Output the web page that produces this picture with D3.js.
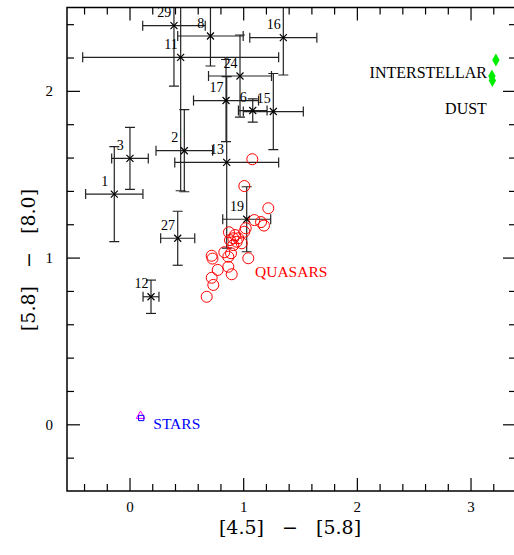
<!DOCTYPE html>
<html>
<head>
<meta charset="utf-8">
<script src="https://cdn.jsdelivr.net/npm/d3@7"></script>
<style>
  body { margin: 0; background: #fff; }
  svg { display: block; }
  text { font-family: "Liberation Serif", "DejaVu Serif", serif; }
</style>
</head>
<body>
<script>
// numbered sources with error bars
var srcIds = [1, 2, 3, 6, 8, 11, 12, 13, 15, 16, 17, 19, 24, 27, 29];
var srcX   = [-0.134, 0.482, 0.004, 1.084, 0.712, 0.450, 0.189, 0.855, 1.265, 1.353, 0.849, 1.031, 0.972, 0.424, 0.391];
var srcY   = [1.381, 1.641, 1.595, 1.882, 2.329, 2.201, 0.765, 1.571, 1.876, 2.319, 1.942, 1.230, 2.089, 1.116, 2.391];
var srcErrX = [0.252, 0.249, 0.161, 0.126, 0.288, 0.862, 0.070, 0.457, 0.264, 0.295, 0.286, 0.211, 0.277, 0.150, 0.275];
var srcErrY = [0.285, 0.246, 0.186, 0.070, 0.180, 0.800, 0.100, 0.514, 0.228, 0.224, 0.246, 0.195, 0.246, 0.162, 0.362];

// quasars
var qsoX = [1.080, 1.010, 1.221, 1.098, 1.157, 1.183, 1.022, 1.010, 0.875, 0.928, 0.913, 0.957, 0.884, 0.943,
            0.987, 0.913, 0.834, 0.893, 0.869, 0.723, 0.730, 1.045, 0.869, 0.776, 0.899, 0.723, 0.737, 0.679];
var qsoY = [1.590, 1.429, 1.296, 1.225, 1.213, 1.192, 1.176, 1.155, 1.152, 1.135, 1.116, 1.116, 1.105, 1.095,
            1.086, 1.075, 1.032, 1.026, 1.005, 1.011, 0.994, 0.996, 0.945, 0.926, 0.900, 0.879, 0.836, 0.765];

// interstellar dust
var dustX = [3.223, 3.188, 3.192];
var dustY = [2.185, 2.089, 2.062];

// stars
var starTriX = [0.097], starTriY = [0.050];
var starSqX = [0.103], starSqY = [0.038];

// axes
var xMajorTicks = [0, 1, 2, 3];
var yMajorTicks = [0, 1, 2];

var svgWidth = 514;
var svgHeight = 555;

var chartMargin = { top: 7.5, left: 67 };
var chartWidth = 449;
var chartHeight = 483.5;

var svg = d3.select("body")
  .append("svg")
  .attr("width", svgWidth)
  .attr("height", svgHeight);

var chartGroup = svg.append("g")
  .attr("transform", `translate(${chartMargin.left}, ${chartMargin.top})`);

var xScale = d3.scaleLinear().domain([-0.55, 3.4]).range([0, chartWidth]);
var yScale = d3.scaleLinear().domain([-0.4, 2.5]).range([chartHeight, 0]);

var xMinor = d3.range(-0.4, 3.41, 0.2).filter(v => Math.abs(v - Math.round(v)) > 0.01);
var yMinor = d3.range(-0.2, 2.41, 0.2).filter(v => Math.abs(v - Math.round(v)) > 0.01);

function styleAxis(g) {
  g.select(".domain").remove();
  g.selectAll("line").attr("stroke", "#000").attr("stroke-width", 1.2);
  g.selectAll("text").attr("font-size", 15).attr("fill", "#000")
    .style("font-family", "'Liberation Serif', serif");
}

// bottom
chartGroup.append("g").attr("transform", `translate(0, ${chartHeight})`)
  .call(d3.axisBottom(xScale).tickValues(xMajorTicks).tickSize(-13).tickPadding(10).tickFormat(d3.format("d")))
  .call(styleAxis);
chartGroup.append("g").attr("transform", `translate(0, ${chartHeight})`)
  .call(d3.axisBottom(xScale).tickValues(xMinor).tickSize(-7).tickFormat(""))
  .call(styleAxis);
// top
chartGroup.append("g")
  .call(d3.axisTop(xScale).tickValues(xMajorTicks).tickSize(-13).tickFormat(""))
  .call(styleAxis);
chartGroup.append("g")
  .call(d3.axisTop(xScale).tickValues(xMinor).tickSize(-7).tickFormat(""))
  .call(styleAxis);
// left
chartGroup.append("g")
  .call(d3.axisLeft(yScale).tickValues(yMajorTicks).tickSize(-13).tickPadding(14).tickFormat(d3.format("d")))
  .call(styleAxis);
chartGroup.append("g")
  .call(d3.axisLeft(yScale).tickValues(yMinor).tickSize(-7).tickFormat(""))
  .call(styleAxis);
// right
chartGroup.append("g").attr("transform", `translate(${chartWidth}, 0)`)
  .call(d3.axisRight(yScale).tickValues(yMajorTicks).tickSize(-13).tickFormat(""))
  .call(styleAxis);
chartGroup.append("g").attr("transform", `translate(${chartWidth}, 0)`)
  .call(d3.axisRight(yScale).tickValues(yMinor).tickSize(-7).tickFormat(""))
  .call(styleAxis);

// frame
chartGroup.append("rect")
  .attr("width", chartWidth).attr("height", chartHeight)
  .attr("fill", "none").attr("stroke", "#000").attr("stroke-width", 1.5);

// axis titles
svg.append("text")
  .attr("x", 290)
  .attr("y", 533.5)
  .attr("text-anchor", "middle")
  .attr("font-size", 19)
  .style("font-family", "'DejaVu Serif', serif")
  .style("white-space", "pre")
  .text("[4.5]   \u2212   [5.8]");

svg.append("text")
  .attr("transform", "translate(35, 260) rotate(-90)")
  .attr("text-anchor", "middle")
  .attr("font-size", 19)
  .style("font-family", "'DejaVu Serif', serif")
  .style("white-space", "pre")
  .text("[5.8]   \u2212   [8.0]");

// clip for the error bars that run off the top
svg.append("defs").append("clipPath").attr("id", "plotClip")
  .append("rect").attr("width", chartWidth).attr("height", chartHeight);

var sources = srcIds.map((id, i) => ({ id: id, x: srcX[i], y: srcY[i], ex: srcErrX[i], ey: srcErrY[i] }));

var bars = chartGroup.append("g").attr("clip-path", "url(#plotClip)")
  .attr("stroke", "#222").attr("stroke-width", 1.2).attr("fill", "none");
var cap = 5;

sources.forEach(function (d) {
  var cx = xScale(d.x), cy = yScale(d.y);
  var x0 = xScale(d.x - d.ex), x1 = xScale(d.x + d.ex);
  var y0 = yScale(d.y - d.ey), y1 = yScale(d.y + d.ey);
  bars.append("line").attr("x1", x0).attr("x2", x1).attr("y1", cy).attr("y2", cy);
  bars.append("line").attr("x1", x0).attr("x2", x0).attr("y1", cy - cap).attr("y2", cy + cap);
  bars.append("line").attr("x1", x1).attr("x2", x1).attr("y1", cy - cap).attr("y2", cy + cap);
  bars.append("line").attr("x1", cx).attr("x2", cx).attr("y1", y0).attr("y2", y1);
  bars.append("line").attr("x1", cx - cap).attr("x2", cx + cap).attr("y1", y0).attr("y2", y0);
  bars.append("line").attr("x1", cx - cap).attr("x2", cx + cap).attr("y1", y1).attr("y2", y1);
});

// crosses
var crossSize = 3.5;
chartGroup.selectAll(".cross")
  .data(sources)
  .enter()
  .append("path")
  .attr("class", "cross")
  .attr("d", d => {
    var cx = xScale(d.x), cy = yScale(d.y), s = crossSize;
    return `M${cx - s},${cy - s}L${cx + s},${cy + s}M${cx - s},${cy + s}L${cx + s},${cy - s}`;
  })
  .attr("stroke", "#000").attr("stroke-width", 1.2);

// id labels
chartGroup.selectAll(".idlabel")
  .data(sources)
  .enter()
  .append("text")
  .attr("class", "idlabel")
  .attr("x", d => xScale(d.x) - 9.6)
  .attr("y", d => yScale(d.y) - 8.4)
  .attr("text-anchor", "middle")
  .attr("font-size", 14)
  .text(d => d.id);

// quasars
chartGroup.selectAll(".qso")
  .data(qsoX.map((x, i) => [x, qsoY[i]]))
  .enter()
  .append("circle")
  .attr("class", "qso")
  .attr("cx", d => xScale(d[0]))
  .attr("cy", d => yScale(d[1]))
  .attr("r", 5.5)
  .attr("fill", "none")
  .attr("stroke", "#ff0000")
  .attr("stroke-width", 1);

// dust diamonds
chartGroup.selectAll(".dust")
  .data(dustX.map((x, i) => [x, dustY[i]]))
  .enter()
  .append("path")
  .attr("class", "dust")
  .attr("d", d3.symbol().type(d3.symbolDiamond).size(48))
  .attr("transform", d => `translate(${xScale(d[0])}, ${yScale(d[1])})`)
  .attr("fill", "#00ee00");

// stars
chartGroup.selectAll(".startri")
  .data(starTriX.map((x, i) => [x, starTriY[i]]))
  .enter()
  .append("path")
  .attr("d", d3.symbol().type(d3.symbolTriangle).size(32))
  .attr("transform", d => `translate(${xScale(d[0])}, ${yScale(d[1])})`)
  .attr("fill", "none").attr("stroke", "#ff00ff").attr("stroke-width", 1);
chartGroup.selectAll(".starsq")
  .data(starSqX.map((x, i) => [x, starSqY[i]]))
  .enter()
  .append("path")
  .attr("d", d3.symbol().type(d3.symbolSquare).size(28))
  .attr("transform", d => `translate(${xScale(d[0])}, ${yScale(d[1])})`)
  .attr("fill", "none").attr("stroke", "#0000ff").attr("stroke-width", 1);

// group labels
function groupLabel(x, y, anchor, color, size, txt) {
  chartGroup.append("text")
    .attr("x", xScale(x)).attr("y", yScale(y))
    .attr("text-anchor", anchor)
    .attr("font-size", size)
    .attr("fill", color)
    .text(txt);
}
groupLabel(1.104, 0.885, "start", "#ff0000", 15.5, "QUASARS");
groupLabel(0.209, -0.03, "start", "#0000ff", 15.5, "STARS");
groupLabel(3.144, 2.079, "end", "#000", 16, "INTERSTELLAR");
groupLabel(3.144, 1.862, "end", "#000", 16, "DUST");
</script>
</body>
</html>
